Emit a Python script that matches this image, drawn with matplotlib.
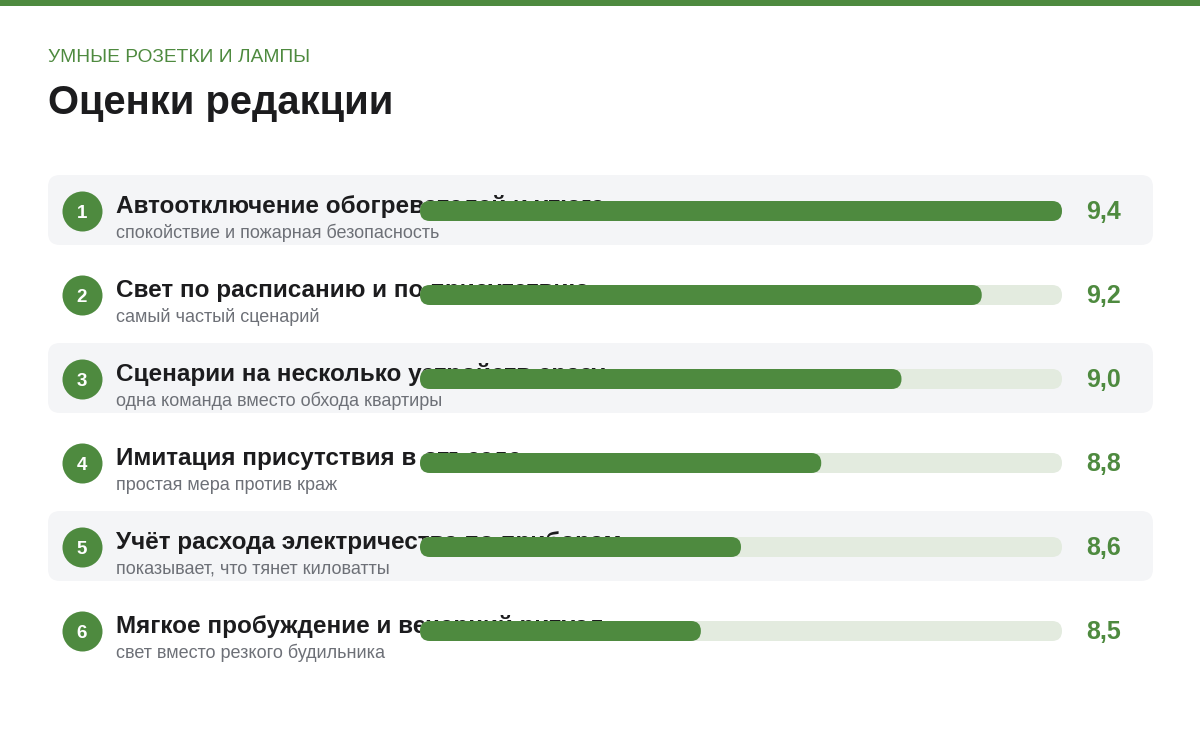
import matplotlib
matplotlib.use("Agg")
import matplotlib.pyplot as plt
from matplotlib.patches import FancyBboxPatch, Rectangle

# data
kicker = "УМНЫЕ РОЗЕТКИ И ЛАМПЫ"
title = "Оценки редакции"
labels = [
    "Автоотключение обогревателей и утюга",
    "Свет по расписанию и по присутствию",
    "Сценарии на несколько устройств сразу",
    "Имитация присутствия в отъезде",
    "Учёт расхода электричества по приборам",
    "Мягкое пробуждение и вечерний ритуал",
]
notes = [
    "спокойствие и пожарная безопасность",
    "самый частый сценарий",
    "одна команда вместо обхода квартиры",
    "простая мера против краж",
    "показывает, что тянет киловатты",
    "свет вместо резкого будильника",
]
scores = [9.4, 9.2, 9.0, 8.8, 8.6, 8.5]
XMIN, XMAX = 7.8, 9.4

GREEN = "#4e8a3f"
TRACK = "#e3ebdf"
BAND = "#f4f5f7"
DARK = "#1c1c1e"
GREY = "#6d7077"

plt.rcParams["font.family"] = ["Liberation Sans", "DejaVu Sans"]

W, H = 1200, 731
fig = plt.figure(figsize=(W / 100, H / 100), dpi=100)
fig.patches.append(Rectangle((0, 1 - 6 / H), 1, 6 / H, transform=fig.transFigure,
                             color=GREEN, lw=0))
fig.text(48 / W, 1 - 62 / H, kicker, color=GREEN, fontsize=13.8, va="baseline")
fig.text(48 / W, 1 - 114 / H, title, color=DARK, fontsize=28.8, fontweight="bold",
         va="baseline")

ROW = 84
top, n = 168, len(labels)
rect_y = 1 - (top + ROW * n) / H
rect_h = ROW * n / H

# background layer: bands, badges, texts (x in pixels)
bg = fig.add_axes([0, rect_y, 1, rect_h])
bg.set_xlim(0, W)
bg.set_ylim(n - 0.5, -0.5)
bg.axis("off")
asp = 1 / ROW
for i in range(n):
    if i % 2 == 0:
        bg.add_patch(FancyBboxPatch((48, i - 35 / ROW), 1105, 70 / ROW,
                                    boxstyle="round,pad=0,rounding_size=12",
                                    mutation_aspect=asp, fc=BAND, ec="none"))
bg.scatter([82] * n, [i + 1 / ROW for i in range(n)], s=830, color=GREEN, lw=0, zorder=2)
for i in range(n):
    bg.text(82, i + 7.5 / ROW, str(i + 1), color="white", fontsize=13.5,
            fontweight="bold", ha="center", va="baseline", zorder=3)
    bg.text(116, i + 3.5 / ROW, labels[i], color=DARK, fontsize=17.5, fontweight="bold",
            va="baseline")
    bg.text(116, i + 28 / ROW, notes[i], color=GREY, fontsize=13, va="baseline")
    bg.text(1086, i + 9 / ROW, f"{scores[i]:.1f}".replace(".", ","), color=GREEN,
            fontsize=18, fontweight="bold", va="baseline")

# bar layer, drawn above the labels
x0, x1 = 420, 1062
ax = fig.add_axes([x0 / W, rect_y, (x1 - x0) / W, rect_h])
ax.set_xlim(XMIN, XMAX)
ax.set_ylim(n - 0.5, -0.5)
ax.axis("off")
ax.patch.set_alpha(0)
xpp = (XMAX - XMIN) / (x1 - x0)
bh = 20 / ROW
r = 9.9 * xpp
basp = (1 / ROW) / xpp
for i, v in enumerate(scores):
    yb = i + 1 / ROW - bh / 2
    ax.add_patch(FancyBboxPatch((XMIN, yb), XMAX - XMIN, bh,
                                boxstyle=f"round,pad=0,rounding_size={r}",
                                mutation_aspect=basp, fc=TRACK, ec="none"))
    ax.add_patch(FancyBboxPatch((XMIN, yb), v - XMIN, bh,
                                boxstyle=f"round,pad=0,rounding_size={r}",
                                mutation_aspect=basp, fc=GREEN, ec="none"))

fig.savefig("out.png", dpi=100)
